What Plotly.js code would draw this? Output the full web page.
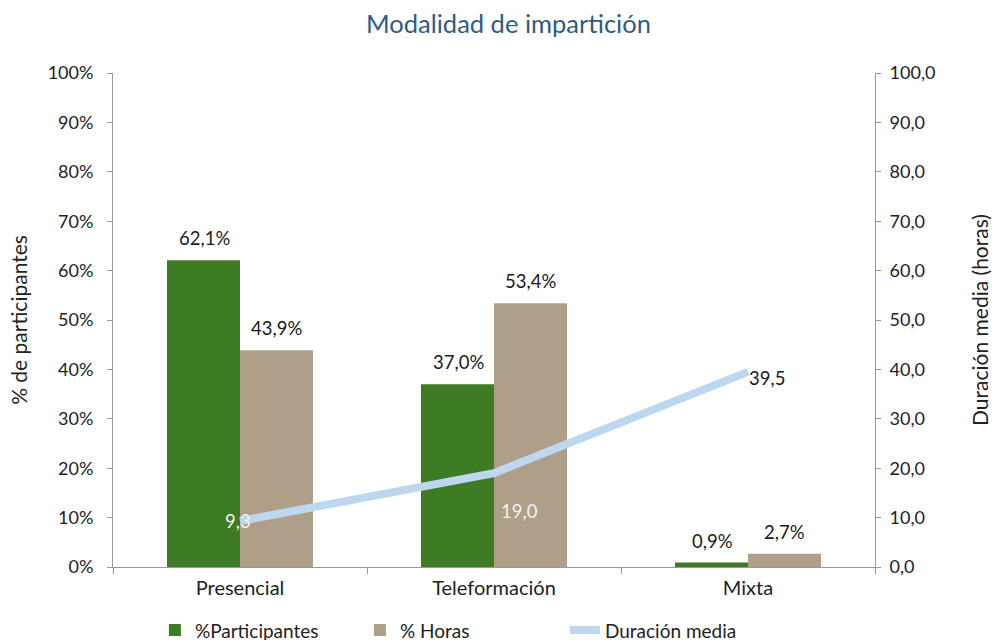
<!DOCTYPE html>
<html>
<head>
<meta charset="utf-8">
<script src="https://cdn.plot.ly/plotly-3.0.1.min.js"></script>
<style>html,body{margin:0;padding:0;background:#fff;}#chart{width:997px;height:640px;}</style>
</head>
<body>
<div id="chart"></div>
<script>
const categories = ["Presencial", "Teleformación", "Mixta"];
const participantes = [0.621, 0.370, 0.009];
const horas = [0.439, 0.534, 0.027];
const duracion = [9.3, 19.0, 39.5];
const seriesNames = ["%Participantes", "% Horas", "Duración media"];

const FONT = "Lato, 'Open Sans', sans-serif";
const fmtPct = v => (v * 100).toFixed(1).replace(".", ",") + "%";
const fmtNum = v => v.toFixed(1).replace(".", ",");

const traces = [
  {type: "bar", name: seriesNames[0], x: categories, y: participantes,
   marker: {color: "#3D7B24"}, hoverinfo: "skip"},
  {type: "bar", name: seriesNames[1], x: categories, y: horas,
   marker: {color: "#AF9F88"}, hoverinfo: "skip"},
  {type: "scatter", mode: "lines", name: seriesNames[2], x: categories, y: duracion,
   yaxis: "y2", line: {color: "#BDD7EE", width: 8}, hoverinfo: "skip"}
];

const LBL = 18.5;
const annotations = [];
categories.forEach((c, i) => {
  annotations.push({x: c, y: participantes[i], xref: "x", yref: "y", text: fmtPct(participantes[i]),
    showarrow: false, xshift: -36, yshift: 9, yanchor: "bottom",
    font: {family: FONT, size: LBL, color: "#1a1a1a"}});
  annotations.push({x: c, y: horas[i], xref: "x", yref: "y", text: fmtPct(horas[i]),
    showarrow: false, xshift: 36, yshift: 9, yanchor: "bottom",
    font: {family: FONT, size: LBL, color: "#1a1a1a"}});
});
const lineLabelStyle = [
  {xshift: -2, yshift: 0, anchor: "center", color: "#F2F2F2"},
  {xshift: 25, yshift: -38, anchor: "center", color: "#F2F2F2"},
  {xshift: -1, yshift: -6, anchor: "left", color: "#1a1a1a"}
];
categories.forEach((c, i) => {
  const s = lineLabelStyle[i];
  annotations.push({x: c, y: duracion[i], xref: "x", yref: "y2", text: fmtNum(duracion[i]),
    showarrow: false, xshift: s.xshift, yshift: s.yshift, xanchor: s.anchor,
    font: {family: FONT, size: LBL, color: s.color}});
});

const axisCommon = {
  showgrid: false, zeroline: false, showline: true, linecolor: "#999", linewidth: 1,
  ticks: "outside", ticklen: 5, tickcolor: "#999", ticklabelstandoff: 10,
  tickfont: {family: FONT, size: 18, color: "#222"}
};

const layout = {
  width: 997, height: 640,
  margin: {l: 113, r: 122, t: 73, b: 73, autoexpand: false},
  paper_bgcolor: "#fff", plot_bgcolor: "#fff",
  separators: ",.",
  font: {family: FONT, color: "#222"},
  title: {text: "Modalidad de impartición", x: 0.51, xanchor: "center", y: 0.962, yanchor: "middle",
          font: {family: FONT, size: 25.5, color: "#2F5A83"}},
  barmode: "group", bargap: 0.425, bargroupgap: 0,
  xaxis: Object.assign({}, axisCommon, {type: "category", tickson: "boundaries", ticklen: 6, ticklabelstandoff: 3,
          tickfont: {family: FONT, size: 20, color: "#222"}}),
  yaxis: Object.assign({}, axisCommon, {range: [0, 1], dtick: 0.1, tickformat: ".0%",
          title: {text: "% de participantes", standoff: 14, font: {family: FONT, size: 21, color: "#222"}}}),
  yaxis2: Object.assign({}, axisCommon, {range: [0, 100], dtick: 10, tickformat: ".1f",
          overlaying: "y", side: "right", ticklabelstandoff: 5,
          title: {text: "Duración media (horas)", standoff: 38, font: {family: FONT, size: 21, color: "#222"}}}),
  showlegend: true,
  legend: {orientation: "h", x: 0.055, xanchor: "left", y: -0.128, yanchor: "middle",
           entrywidth: 160, entrywidthmode: "pixels",
           font: {family: FONT, size: 19, color: "#222"}, traceorder: "normal", itemwidth: 30},
  annotations: annotations
};

Plotly.newPlot("chart", traces, layout, {displayModeBar: false, staticPlot: true});
</script>
</body>
</html>
